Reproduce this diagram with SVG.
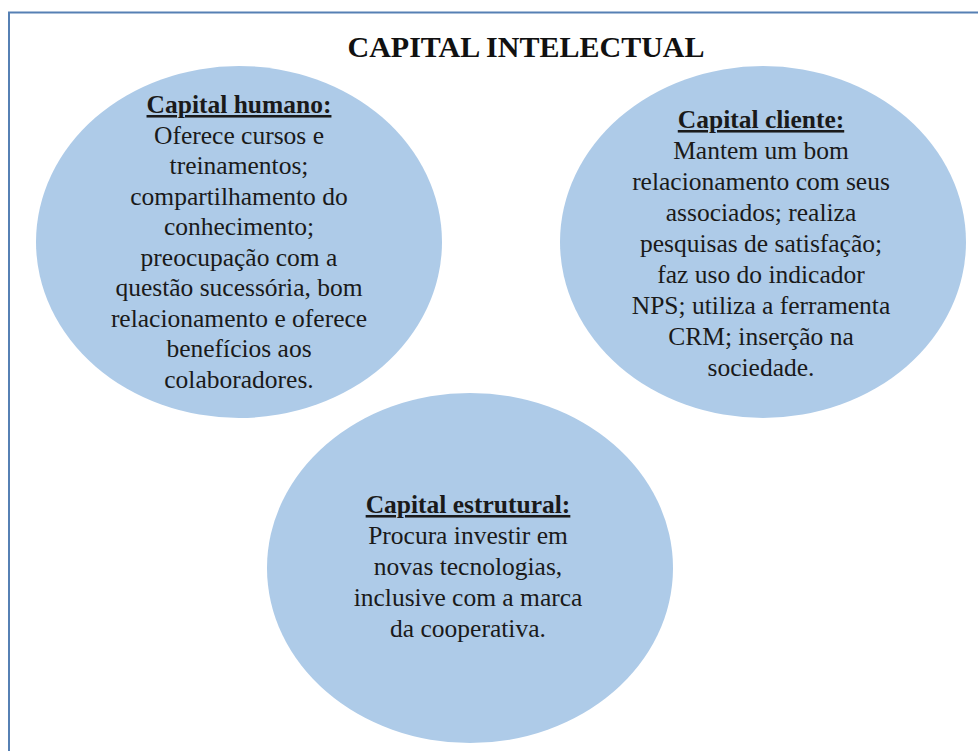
<svg xmlns="http://www.w3.org/2000/svg" width="978" height="751" viewBox="0 0 978 751">
  <style>
    .frame { fill: #ffffff; stroke: #5680b4; stroke-width: 2; }
    .bubble { fill: #aecbe8; }
    .title { font-family: "Liberation Serif", "Times New Roman", serif; font-weight: bold; font-size: 30px; fill: #111111; text-anchor: middle; }
    .t { font-family: "Liberation Serif", "Times New Roman", serif; font-size: 25.5px; fill: #1a1a1a; text-anchor: middle; }
    .h { font-weight: bold; text-decoration: underline; }
  </style>

  <rect width="978" height="751" fill="#ffffff"/>
  <!-- outer frame (right and bottom edges run past the canvas) -->
  <rect class="frame" x="9" y="12.5" width="1000" height="760"/>

  <text class="title" x="526" y="57">CAPITAL INTELECTUAL</text>

  <g id="capital-humano">
    <ellipse class="bubble" cx="239" cy="242" rx="203" ry="176"/>
    <text class="t h" x="239" y="113">Capital humano:</text>
    <text class="t" x="239" y="143.5">Oferece cursos e</text>
    <text class="t" x="239" y="174">treinamentos;</text>
    <text class="t" x="239" y="204.5">compartilhamento do</text>
    <text class="t" x="239" y="235">conhecimento;</text>
    <text class="t" x="239" y="265.5">preocupação com a</text>
    <text class="t" x="239" y="296">questão sucessória, bom</text>
    <text class="t" x="239" y="326.5">relacionamento e oferece</text>
    <text class="t" x="239" y="357">benefícios aos</text>
    <text class="t" x="239" y="387.5">colaboradores.</text>
  </g>

  <g id="capital-cliente">
    <ellipse class="bubble" cx="763" cy="242" rx="203" ry="176"/>
    <text class="t h" x="761" y="128">Capital cliente:</text>
    <text class="t" x="761" y="159">Mantem um bom</text>
    <text class="t" x="761" y="190">relacionamento com seus</text>
    <text class="t" x="761" y="221">associados; realiza</text>
    <text class="t" x="761" y="252">pesquisas de satisfação;</text>
    <text class="t" x="761" y="283">faz uso do indicador</text>
    <text class="t" x="761" y="314">NPS; utiliza a ferramenta</text>
    <text class="t" x="761" y="345">CRM; inserção na</text>
    <text class="t" x="761" y="376">sociedade.</text>
  </g>

  <g id="capital-estrutural">
    <ellipse class="bubble" cx="470" cy="568" rx="203" ry="175"/>
    <text class="t h" x="468" y="513">Capital estrutural:</text>
    <text class="t" x="468" y="544">Procura investir em</text>
    <text class="t" x="468" y="575">novas tecnologias,</text>
    <text class="t" x="468" y="606">inclusive com a marca</text>
    <text class="t" x="468" y="637">da cooperativa.</text>
  </g>

  <g id="connectors"></g>
</svg>
